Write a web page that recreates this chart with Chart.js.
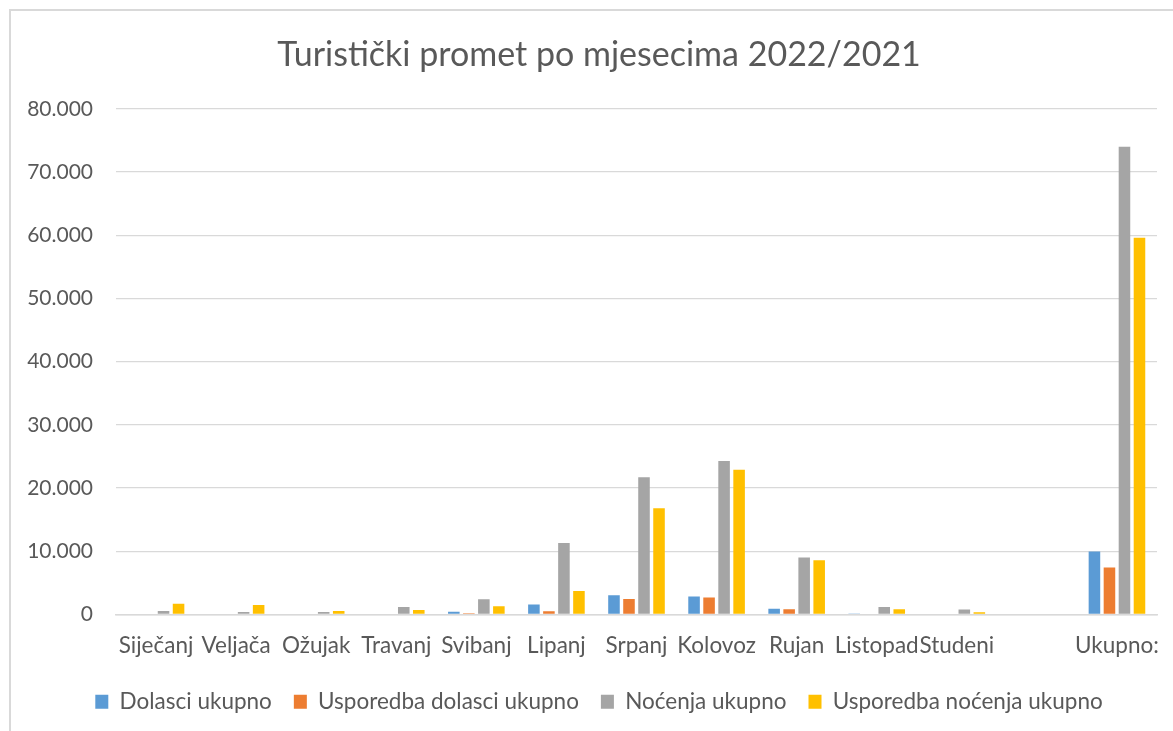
<!DOCTYPE html>
<html>
<head>
<meta charset="utf-8">
<script src="https://cdn.jsdelivr.net/npm/chart.js@4.4.0/dist/chart.umd.min.js"></script>
<style>
  html, body { margin: 0; padding: 0; overflow: hidden; background: #ffffff; }
  #frame { position: absolute; left: 9px; top: 9px; width: 1300px; height: 900px;
           border-left: 2px solid #d9d9d9; border-top: 2px solid #d9d9d9; }
  #wrap { position: absolute; left: 0; top: 0; width: 1188px; height: 723px; }
</style>
</head>
<body>
<div id="frame"></div>
<div id="wrap"><canvas id="c"></canvas></div>
<script>
const categories = ['Siječanj', 'Veljača', 'Ožujak', 'Travanj', 'Svibanj', 'Lipanj', 'Srpanj', 'Kolovoz', 'Rujan', 'Listopad', 'Studeni', '', 'Ukupno:'];
const dolasciUkupno = [0, 0, 0, 120, 420, 1600, 3050, 2850, 900, 150, 0, 0, 9950];
const usporedbaDolasciUkupno = [0, 0, 0, 0, 180, 500, 2450, 2700, 850, 0, 0, 0, 7450];
const nocenjaUkupno = [550, 400, 400, 1200, 2400, 11300, 21700, 24300, 9000, 1200, 800, 0, 74000];
const usporedbaNocenjaUkupno = [1700, 1500, 550, 700, 1300, 3700, 16800, 22900, 8600, 850, 350, 0, 59600];
const seriesNames = ['Dolasci ukupno', 'Usporedba dolasci ukupno', 'Noćenja ukupno', 'Usporedba noćenja ukupno'];
const titleText = 'Turistički promet po mjesecima 2022/2021';
const yMax = 80000;
const yStep = 10000;

const colors = ['#5B9BD5', '#ED7D31', '#A5A5A5', '#FFC000'];
const seriesData = [dolasciUkupno, usporedbaDolasciUkupno, nocenjaUkupno, usporedbaNocenjaUkupno];
const txt = '#595959';
const fam = 'Lato, "Open Sans", sans-serif';

function fmt(v) { return String(v).replace(/\B(?=(\d{3})+(?!\d))/g, '.'); }

new Chart(document.getElementById('c'), {
  type: 'bar',
  data: {
    labels: categories,
    datasets: seriesNames.map((n, i) => ({
      label: n,
      data: seriesData[i],
      backgroundColor: colors[i],
      borderWidth: 0,
      categoryPercentage: 0.75,
      barPercentage: 0.77,
      yAxisID: 'y'
    }))
  },
  options: {
    responsive: true,
    maintainAspectRatio: false,
    animation: false,
    layout: { padding: { left: 10, right: 0, top: 0, bottom: 0 } },
    plugins: {
      title: {
        display: true, text: titleText, color: txt,
        font: { family: fam, size: 34, weight: 'normal' },
        padding: { top: 35, bottom: 33 }
      },
      legend: {
        position: 'bottom',
        labels: {
          color: txt, font: { family: fam, size: 22.5 },
          boxWidth: 13, boxHeight: 14, padding: 22
        }
      },
      tooltip: { enabled: false }
    },
    scales: {
      x: {
        grid: { display: false },
        border: { display: true, color: '#d9d9d9', width: 1.5 },
        ticks: { color: txt, font: { family: fam, size: 22.5 }, padding: 10, maxRotation: 0, autoSkip: false },
        afterFit(s) { s.height = 54; }
      },
      y: {
        min: 0, max: yMax,
        grid: { color: '#d9d9d9', lineWidth: 1.3, drawTicks: false },
        border: { display: false },
        ticks: { stepSize: yStep, color: txt, font: { family: fam, size: 21 }, padding: 23, callback: v => fmt(v) },
        afterFit(s) { s.width = 106; }
      },
      yRight: {
        position: 'right', display: true, min: 0, max: 1,
        grid: { display: false, drawTicks: false },
        border: { display: false },
        ticks: { display: false },
        afterFit(s) { s.width = 31; }
      }
    }
  }
});
</script>
</body>
</html>
